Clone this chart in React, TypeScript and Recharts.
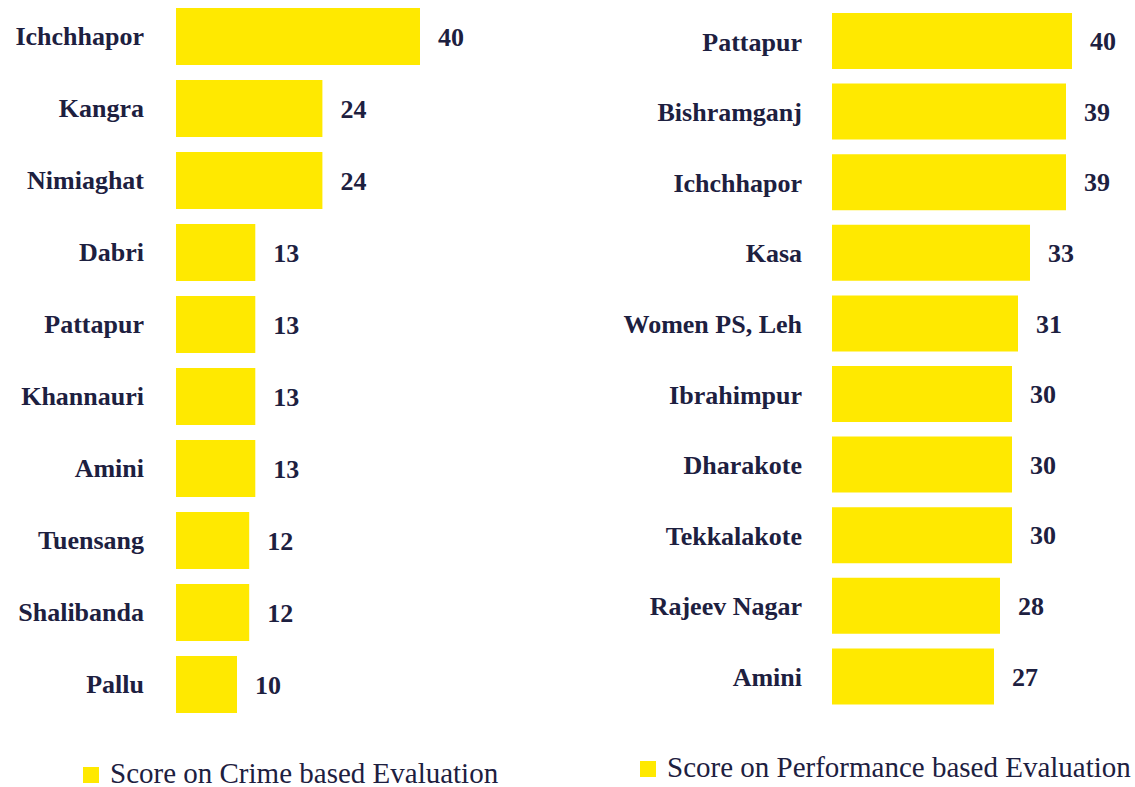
import { BarChart, Bar, XAxis, YAxis, LabelList, Legend } from 'recharts';

const crimeStations = ['Ichchhapor', 'Kangra', 'Nimiaghat', 'Dabri', 'Pattapur', 'Khannauri', 'Amini', 'Tuensang', 'Shalibanda', 'Pallu'];
const crimeScores = [40, 24, 24, 13, 13, 13, 13, 12, 12, 10];

const perfStations = ['Pattapur', 'Bishramganj', 'Ichchhapor', 'Kasa', 'Women PS, Leh', 'Ibrahimpur', 'Dharakote', 'Tekkalakote', 'Rajeev Nagar', 'Amini'];
const perfScores = [40, 39, 39, 33, 31, 30, 30, 30, 28, 27];

const crimeData = crimeStations.map((name, i) => ({ name, score: crimeScores[i] }));
const perfData = perfStations.map((name, i) => ({ name, score: perfScores[i] }));

const YELLOW = '#FFE900';
const INK = '#1d2040';
const FONT = '"Liberation Serif", "Times New Roman", serif';

const tickStyle = { fill: INK, fontSize: 26, fontWeight: 700, fontFamily: FONT };

// left-aligned legend: small square, then the series name in ink colour
const renderLegend = (props: any) => (
  <div style={{ whiteSpace: 'nowrap', fontFamily: FONT, fontSize: 29, color: INK, lineHeight: '26px' }}>
    {(props.payload || []).map((entry: any) => (
      <span key={entry.value}>
        <span style={{ display: 'inline-block', width: 16, height: 16, background: entry.color, marginRight: 11 }} />
        {entry.value}
      </span>
    ))}
  </div>
);

export default function App() {
  return (
    <div style={{ position: 'absolute', left: 0, top: 0, width: 1135, height: 787, background: '#fff', fontFamily: FONT }}>
      <div style={{ position: 'absolute', left: 0, top: 0 }}>
        <BarChart
          width={520}
          height={787}
          data={crimeData}
          layout="vertical"
          margin={{ top: 0, right: 39, bottom: 67, left: 0 }}
        >
          <XAxis type="number" domain={[0, 50]} hide />
          <YAxis
            type="category"
            dataKey="name"
            width={176}
            axisLine={false}
            tickLine={false}
            tickSize={0}
            tickMargin={32}
            tick={tickStyle}
            interval={0}
          />
          <Legend
            layout="horizontal"
            align="center"
            verticalAlign="middle"
            content={renderLegend}
            wrapperStyle={{ left: 83, top: 760, width: 480 }}
          />
          <Bar dataKey="score" name="Score on Crime based Evaluation" fill={YELLOW} barSize={57} isAnimationActive={false}>
            <LabelList dataKey="score" position="right" offset={18} fill={INK} fontSize={26} fontWeight={700} fontFamily={FONT} />
          </Bar>
        </BarChart>
      </div>
      <div style={{ position: 'absolute', left: 600, top: 0 }}>
        <BarChart
          width={535}
          height={787}
          data={perfData}
          layout="vertical"
          margin={{ top: 6, right: 3, bottom: 75, left: 0 }}
        >
          <XAxis type="number" domain={[0, 50]} hide />
          <YAxis
            type="category"
            dataKey="name"
            width={232}
            axisLine={false}
            tickLine={false}
            tickSize={0}
            tickMargin={30}
            tick={tickStyle}
            interval={0}
          />
          <Legend
            layout="horizontal"
            align="center"
            verticalAlign="middle"
            content={renderLegend}
            wrapperStyle={{ left: 40, top: 754, width: 495 }}
          />
          <Bar dataKey="score" name="Score on Performance based Evaluation" fill={YELLOW} barSize={56} isAnimationActive={false}>
            <LabelList dataKey="score" position="right" offset={18} fill={INK} fontSize={26} fontWeight={700} fontFamily={FONT} />
          </Bar>
        </BarChart>
      </div>
    </div>
  );
}
